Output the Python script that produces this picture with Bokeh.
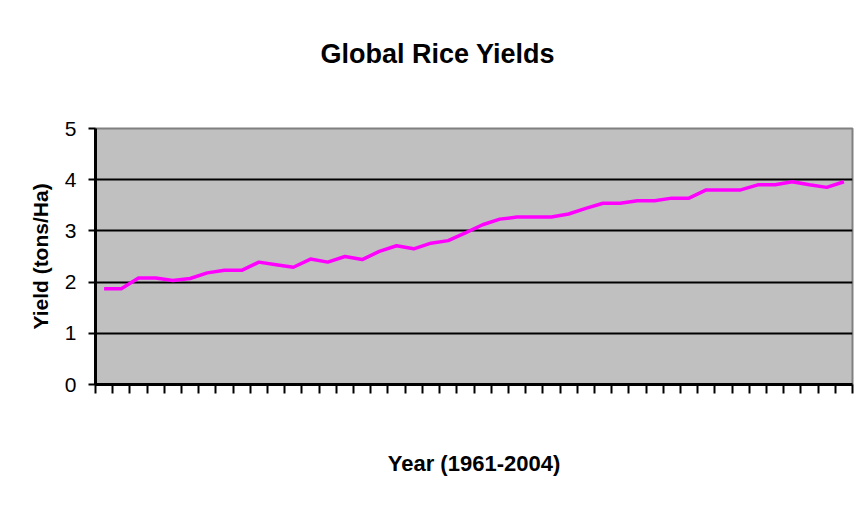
from bokeh.plotting import figure
from bokeh.models import Range1d, FixedTicker
from bokeh.embed import file_html
from bokeh.resources import INLINE

years = list(range(1961, 2005))
yields = [1.87, 1.87, 2.08, 2.08, 2.03, 2.07, 2.18, 2.23, 2.23, 2.39,
          2.34, 2.29, 2.45, 2.39, 2.50, 2.44, 2.60, 2.71, 2.65, 2.76,
          2.81, 2.96, 3.12, 3.23, 3.27, 3.27, 3.27, 3.33, 3.44, 3.54,
          3.54, 3.59, 3.59, 3.64, 3.64, 3.80, 3.80, 3.80, 3.90, 3.90,
          3.96, 3.90, 3.85, 3.96]
y_ticks = [0, 1, 2, 3, 4, 5]
title_text = "Global Rice Yields"

W, H = 855, 499
p = figure(width=W, height=H, output_backend="svg", toolbar_location=None,
           x_range=Range1d(years[0] - 0.5, years[-1] + 0.5),
           y_range=Range1d(0, 5))
p.min_border_left = 95
p.min_border_right = 3
p.min_border_top = 128
p.min_border_bottom = 115
p.background_fill_color = "#c0c0c0"
p.border_fill_color = "white"
p.outline_line_color = "#808080"
p.outline_line_width = 2

# a blank second line lifts the title away from the plot area
p.title.text = title_text + "\n\u00a0"
p.title.text_font = "Liberation Sans"
p.title.text_font_size = "27px"
p.title.text_font_style = "bold"
p.title.text_color = "black"
p.title.align = "left"
p.title.offset = 225
p.title.standoff = 60

p.line(years, yields, line_color="#ff00ff", line_width=3.5)

# x axis: tick marks between the year categories, no tick labels
xa = p.xaxis[0]
xa.ticker = FixedTicker(ticks=[], minor_ticks=[y - 0.5 for y in years] + [years[-1] + 0.5])
xa.axis_line_color = "black"
xa.axis_line_width = 3
xa.major_tick_line_color = None
xa.minor_tick_line_color = "black"
xa.minor_tick_line_width = 2
xa.minor_tick_out = 9
xa.minor_tick_in = 0
xa.axis_label = "Year (1961-2004)"
xa.axis_label_text_font = "Liberation Sans"
xa.axis_label_text_font_size = "22px"
xa.axis_label_text_font_style = "bold"
xa.axis_label_text_color = "black"
xa.axis_label_standoff = 57

# y axis
ya = p.yaxis[0]
ya.ticker = FixedTicker(ticks=y_ticks)
ya.axis_line_color = "black"
ya.axis_line_width = 3
ya.major_tick_line_color = "black"
ya.major_tick_line_width = 2
ya.major_tick_out = 7
ya.major_tick_in = 0
ya.minor_tick_line_color = None
ya.major_label_text_font = "Liberation Sans"
ya.major_label_text_font_size = "21px"
ya.major_label_text_color = "black"
ya.major_label_standoff = 12
ya.axis_label = "Yield (tons/Ha)"
ya.axis_label_text_font = "Liberation Sans"
ya.axis_label_text_font_size = "21px"
ya.axis_label_text_font_style = "bold"
ya.axis_label_text_color = "black"
ya.axis_label_standoff = 10

p.xgrid.grid_line_color = None
p.ygrid.ticker = FixedTicker(ticks=[1, 2, 3, 4])
p.ygrid.grid_line_color = "black"
p.ygrid.grid_line_width = 2

open("out.html", "w").write(file_html(p, INLINE))
